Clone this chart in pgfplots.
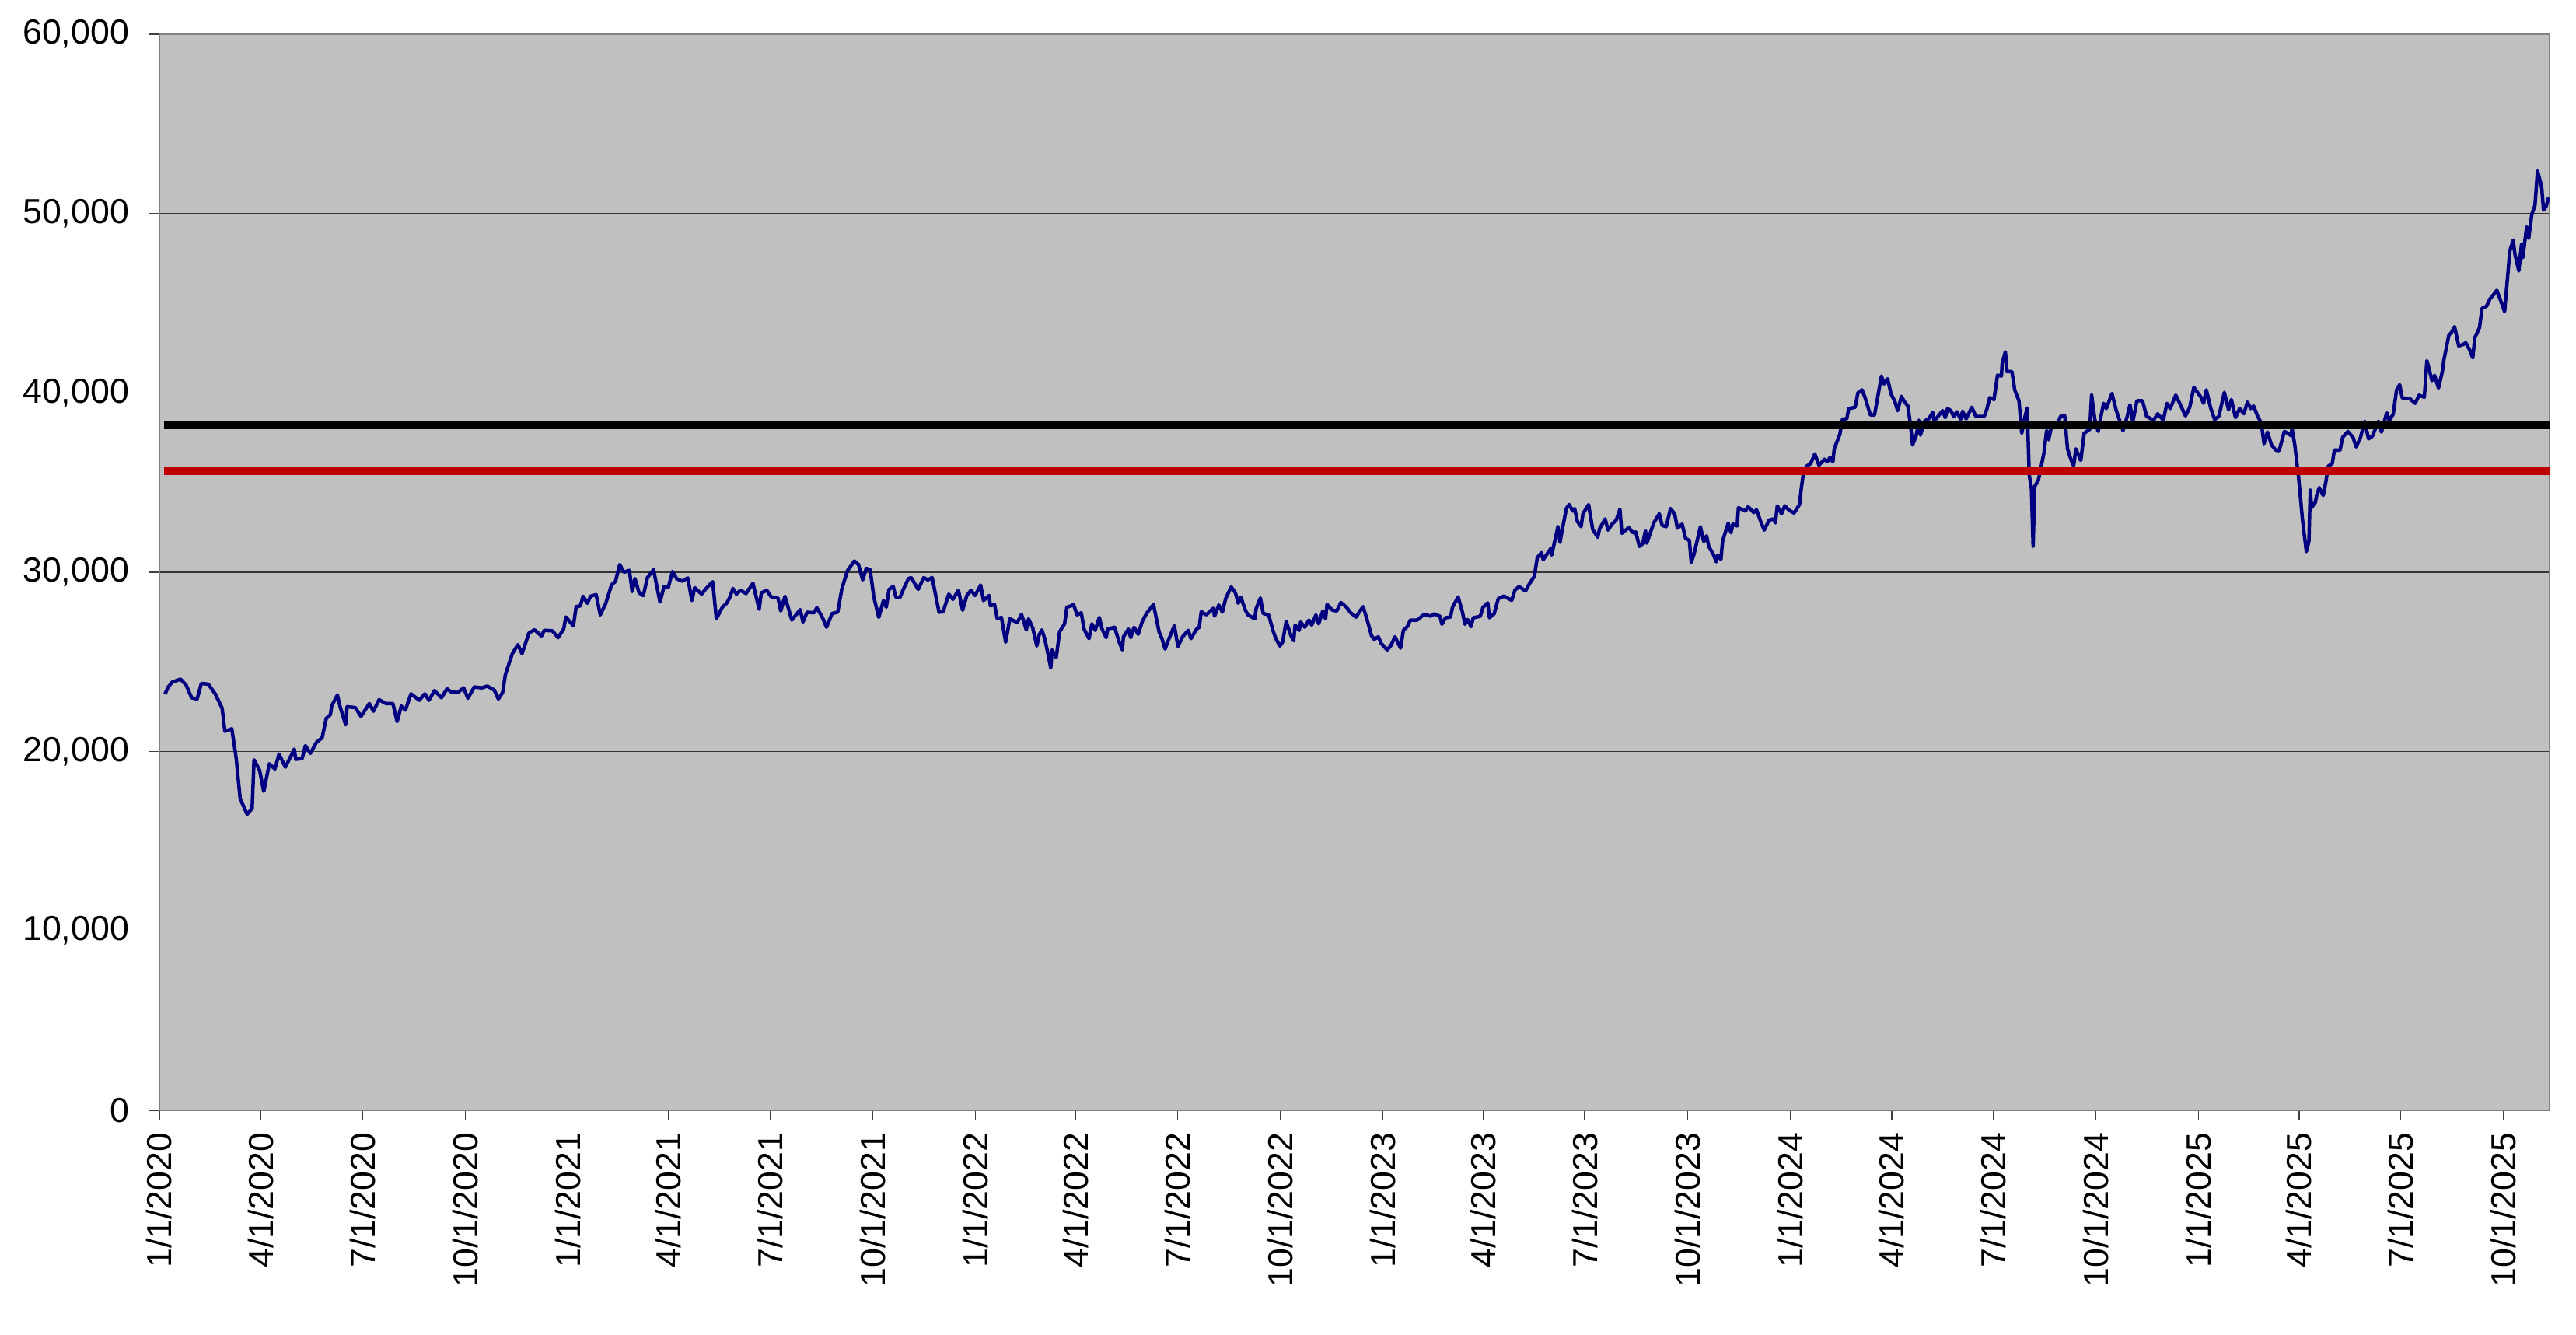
\documentclass[border=0pt]{standalone}
\usepackage{pgfplots}
\pgfplotsset{compat=1.18}
\usepackage{fontspec}
\setmainfont{Liberation Sans}
\definecolor{plotbg}{HTML}{C0C0C0}
\definecolor{navyline}{HTML}{000080}
\definecolor{refred}{HTML}{C00000}
\begin{document}
\fontsize{10}{12}\selectfont
\begin{tikzpicture}
\useasboundingbox (0,0) rectangle (741.2pt,384.1pt);
\begin{axis}[
  at={(45.86pt,64.65pt)}, anchor=south west,
  width=687.7pt, height=309.6pt, scale only axis,
  xmin=0, xmax=2141.3, ymin=0, ymax=60000,
  axis background/.style={fill=plotbg},
  axis line style={draw=gray, line width=0.6pt},
  ytick={0,10000,20000,30000,40000,50000,60000},
  xtick={0,91,182,274,366,456,547,639,731,821,912,1004,1096,1186,1277,1369,1461,1552,1643,1735,1827,1917,2008,2100},
  xticklabels={1/1/2020,4/1/2020,7/1/2020,10/1/2020,1/1/2021,4/1/2021,7/1/2021,10/1/2021,1/1/2022,4/1/2022,7/1/2022,10/1/2022,1/1/2023,4/1/2023,7/1/2023,10/1/2023,1/1/2024,4/1/2024,7/1/2024,10/1/2024,1/1/2025,4/1/2025,7/1/2025,10/1/2025},
  xticklabel style={rotate=90, anchor=east},
  yticklabel style={anchor=east, xshift=-2.3pt},
  tick align=outside, xtick pos=bottom, ytick pos=left,
  major tick length=2.9pt,
  tick style={black!75, line width=0.3pt},
  ymajorgrids, grid style={black!80, line width=0.3pt},
  scaled y ticks=false,
  /pgf/number format/1000 sep={,},
  /pgf/number format/assume math mode=true,
]
\addplot[navyline, line width=1.0pt, line join=round, mark=none] coordinates {
(5,23200) (7.7,23580) (11.4,23870) (18.9,24040) (23.9,23720) (28.9,23000) (33.8,22930) (37.6,23800) (43.8,23760) (50,23220) (56.2,22420) (58.7,21130) (64.9,21270) (68.7,19680) (72.4,17370) (78.6,16510) (83.1,16830) (84.8,19540) (89.8,18960) (93.5,17780) (98.5,19320) (103.5,19030) (107.2,19860) (112.9,19130) (120.9,20140) (122.1,19570) (127.9,19610) (130.8,20330) (135.3,19900) (140.8,20520) (145.8,20770) (149.5,21850) (153.2,22060) (154.5,22570) (159.5,23150) (161.9,22500) (166.9,21490) (168.2,22500) (175.6,22450) (180.6,21960) (188.1,22680) (191.8,22250) (196.8,22890) (203,22680) (209.2,22680) (213,21670) (216.7,22540) (220.4,22310) (225.4,23220) (232.8,22860) (237.8,23220) (241.5,22860) (246.5,23400) (252.7,23000) (257.7,23500) (261.5,23320) (267.2,23290) (272.6,23550) (276.4,22970) (282.1,23600) (288.8,23550) (293.8,23650) (300,23430) (303.7,22930) (307.5,23290) (310,24300) (316.2,25460) (321.2,25960) (324.9,25460) (331.1,26610) (336.1,26790) (342.3,26440) (344.8,26760) (352.2,26730) (357.2,26350) (362.2,26830) (364.2,27500) (370.9,27010) (373.4,28080) (377.1,28120) (379.6,28660) (383.4,28270)
(386.3,28660) (391.3,28750) (395,27620) (400,28270) (405,29280) (408.7,29500) (412.4,30430) (416.1,30000) (421.1,30100) (423.6,28920) (426.1,29640) (429.8,28850) (433.5,28700) (437.3,29700) (442.7,30140) (448.5,28340) (452.2,29210) (455.9,29140) (459.7,30040) (463.4,29640) (468.4,29500) (473.4,29680) (477.1,28420) (479.6,29140) (485.8,28780) (489.5,29070) (495.7,29470) (499,27400) (504.4,28050) (508.2,28270) (510.7,28550) (513.9,29090) (516.9,28780) (520.6,28990) (525.6,28810) (531.8,29380) (537.3,27940) (539.3,28850) (544.2,28990) (548,28630) (554.2,28560) (556.7,27840) (560.4,28660) (566.6,27330) (574.1,27910) (576.6,27220) (580.3,27770) (586.5,27740) (589,28020) (594,27480) (597.7,26930) (602.7,27700) (607.7,27770) (611.4,29070) (616.4,30080) (622.6,30620) (626.3,30430) (630.1,29570) (633.3,30210) (636.8,30140) (640,28630) (644.5,27480) (648.7,28420) (651.2,28050) (653.7,29040) (657.4,29210) (659.9,28600) (663.6,28600) (666.1,28990) (671.1,29640) (673.6,29700) (679.8,29040) (684.8,29700) (688.5,29570) (692.3,29700) (698.5,27770) (702.2,27800) (707.2,28780) (710.9,28490) (715.9,28990) (719.6,27880) (723.4,28700) (727.1,28990) (730.8,28700) (735.8,29280) (738.3,28420) (743.3,28700) (744.5,28130) (748.2,28200) (750.7,27400) (754.4,27480) (758.2,26100) (761.9,27400)
(768.7,27190) (772.4,27650) (776.7,26780) (778.7,27400) (782.4,26900) (786.1,25890) (788.1,26490) (790.6,26780) (793.1,26320) (796.1,25450) (798.6,24660) (799.8,25670) (803.5,25240) (806.5,26680) (811,27120) (813,28050) (817.2,28130) (819,28200) (822.2,27620) (825.9,27740) (828.4,26830) (832.9,26300) (835.4,27120) (838.4,26760) (842.1,27480) (844.6,26830) (848.3,26350) (849.5,26830) (855.8,26930) (859.5,26180) (862.7,25670) (863.7,26400) (868.2,26830) (870.2,26350) (873.2,26930) (876.9,26540) (880.6,27260) (884.4,27700) (890.6,28200) (895.6,26680) (898.1,26320) (901,25720) (904.3,26260) (909.3,27020) (912.5,25860) (916.7,26400) (921.7,26760) (924.2,26300) (929.2,26830) (931.6,26930) (933.4,27800) (937.9,27620) (944.1,27990) (945.3,27550) (949.1,28170) (952.3,27770) (955.3,28530) (960.2,29180) (964,28850) (966.5,28270) (969,28600) (972.7,27910) (975.2,27620) (981.4,27400) (982.6,27980) (986.4,28560) (988.9,27700) (993.8,27620) (997.6,26760) (1000.1,26320) (1003.8,25890) (1006.3,26100) (1009.5,27260) (1013.7,26470) (1016.2,26180) (1017.5,27050) (1021.2,26760) (1022.4,27220) (1026.2,26930) (1029.9,27330) (1032.4,27050) (1036.1,27620) (1038.6,27120) (1042.3,27840) (1044.8,27400) (1046.1,28200) (1051,27880) (1054.8,27840) (1058.5,28310) (1063.5,28050) (1067.2,27740) (1072.2,27500) (1075.2,27800) (1078.4,28080) (1082.1,27330) (1085.9,26470) (1088.4,26260) (1092.1,26400) (1094.6,26030) (1100,25670) (1103.3,25910) (1107,26400) (1112,25770) (1114.5,26760) (1118.2,26980) (1120.7,27330) (1126.9,27330) (1133.1,27650) (1138.9,27550)
(1142.3,27680) (1147.3,27540) (1149,27100) (1152.3,27460) (1156.7,27500) (1158.5,28040) (1163.5,28620) (1167.2,27830) (1169.7,27100) (1172.2,27360) (1175.1,26960) (1177.1,27460) (1183.4,27540) (1185.8,28040) (1190.1,28290) (1191.6,27460) (1195.8,27680) (1199.5,28520) (1204.5,28670) (1211.5,28430) (1214.5,29010) (1218.2,29200) (1223.9,28950) (1226.9,29300) (1231.9,29780) (1234.4,30800) (1238.1,31090) (1239.8,30700) (1246.8,31340) (1247.3,30950) (1253,32540) (1254.8,31670) (1256.7,32320) (1260.5,33550) (1263,33770) (1266.2,33410) (1267.9,33550) (1270.4,32830) (1273.7,32540) (1275.4,33260) (1280.4,33770) (1284.1,32390) (1288.6,31950) (1290.3,32430) (1295.3,32970) (1297.8,32350) (1301.5,32680) (1305.3,32920) (1308.5,33510) (1310.2,32170) (1316.4,32490) (1320.2,32200) (1322.7,32240) (1325.9,31440) (1328.9,31590) (1331.4,32320) (1332.6,31620) (1338.8,32750) (1343.8,33260) (1346.3,32610) (1350,32540) (1353.8,33550) (1357.5,33260) (1360,32460) (1364.2,32680) (1367.4,31880) (1370.7,31770) (1372.4,30550) (1374.9,31010) (1380.6,32540) (1383.6,31710) (1386.1,32030) (1388.1,31440) (1392.3,30980) (1394.8,30580) (1396,30940) (1399,30720) (1400.5,31740) (1405.5,32730) (1408,32200) (1409.7,32680) (1413.5,32580) (1414.7,33600) (1420.9,33410) (1423.4,33650) (1428.4,33330) (1430.9,33480) (1434.6,32830) (1437.8,32350) (1442.1,32900) (1445.8,32970) (1447.8,32750) (1449.5,33700) (1453.3,33260) (1456.2,33700) (1460.2,33450) (1464.5,33300) (1469.4,33770) (1471.2,34780) (1473.2,35650) (1475.7,35910) (1479.4,36060) (1483.1,36600) (1486.8,35970) (1491.8,36300) (1494.3,36160) (1496.8,36410) (1499.3,36160) (1500.5,36890) (1505.5,37680)
(1508,38550) (1511.7,38550) (1513.5,39130) (1519.2,39200) (1521.7,40000) (1525.4,40170) (1527.9,39780) (1532.9,38770) (1536.6,38770) (1542.8,40940) (1545.3,40500) (1548.3,40790) (1551.5,39920) (1554.8,39530) (1557.3,39010) (1560.7,39810) (1563.2,39530) (1566.5,39270) (1568.9,38180) (1570.7,37100) (1573.9,37610) (1576.4,38480) (1577.7,37650) (1581.4,38430) (1585.1,38550) (1588.8,38910) (1590.1,38430) (1597.6,39010) (1600,38620) (1602,39130) (1605,39010) (1607.5,38690) (1610.5,38950) (1613.7,38520) (1615.5,38980) (1618.7,38550) (1623.7,39200) (1627.4,38690) (1634.9,38690) (1637.4,39130) (1639.8,39740) (1643.6,39630) (1646.8,40990) (1650.3,40940) (1651,41660) (1653.8,42290) (1655.3,41190) (1659.7,41190) (1662.2,40170) (1666,39560) (1668.5,37750) (1670.9,38550) (1673.4,39160) (1675.2,35430) (1677.2,34640) (1678.7,31450) (1680.1,34780) (1683.4,35140) (1688.4,36660) (1690.8,37900) (1692.6,37390) (1695.8,38330) (1699.5,38120) (1703.3,38690) (1707,38720) (1709.5,36880) (1712.5,36300) (1715,35940) (1717,36880) (1721.4,36230) (1724.4,37750) (1729.4,37970) (1731.1,39880) (1733.9,38550) (1736.9,37860) (1741.8,39420) (1744.3,39130) (1749.3,39970) (1753,39060) (1759.2,37900) (1763,38690) (1765.5,39340) (1768,38400) (1771.7,39560) (1776.7,39560) (1780.4,38690) (1786.6,38480) (1790.3,38840) (1795.3,38480) (1798.6,39420) (1801.5,39130) (1806.5,39880) (1809.5,39490) (1815.2,38720) (1819,39200) (1822.7,40310) (1828.9,39780) (1831.4,39420) (1833.9,40170) (1837.6,39200) (1841.3,38520) (1845.1,38690) (1850,40030) (1853.8,39060) (1856.3,39630) (1860,38620) (1863.7,39130) (1867.5,38840) (1870.7,39490) (1873.7,39130) (1876.2,39270) (1879.9,38690) (1883.1,38330) (1885.6,37170) (1888.6,37820) (1892.3,37100) (1896.1,36810)
(1899.1,36780) (1903.8,37850) (1906.1,37780) (1909.6,37630) (1910.7,38000) (1913.1,37110) (1916.5,35320) (1920,32935) (1923.5,31150) (1925.8,31740) (1927,34575) (1928.2,33600) (1931.6,33900) (1932.8,34300) (1935.1,34720) (1938.6,34280) (1940.9,35020) (1943.2,35920) (1946.7,36065) (1948.6,36810) (1953.7,36810) (1956,37525) (1960.7,37850) (1965.3,37525) (1968.1,36990) (1971.8,37480) (1975.8,38420) (1979.2,37440) (1982.7,37590) (1988.1,38420) (1990.8,37820) (1995.5,38900) (1997.8,38450) (2001.3,38820) (2004.3,40160) (2007.1,40460) (2009.4,39720) (2016.4,39670) (2021,39420) (2024.5,39870) (2029.2,39760) (2031.5,41800) (2036.1,40685) (2038.4,40980) (2041.9,40270) (2045.4,41210) (2046.6,41800) (2051.2,43220) (2053.5,43370) (2056.3,43700) (2060,42620) (2064,42700) (2066.3,42800) (2069.8,42400) (2072.6,41950) (2074.4,43070) (2078.6,43640) (2080.9,44710) (2084.9,44830) (2087.9,45230) (2091.2,45480) (2094.2,45720) (2097.7,45130) (2101.1,44530) (2105.8,47910) (2108.8,48510) (2110.4,47720) (2113.9,46800) (2116.2,48260) (2117.4,47540) (2120.9,49260) (2122.7,48610) (2125.5,49960) (2128.3,50450) (2130.6,52380) (2134.3,51490) (2136,50190) (2138.3,50400) (2140.6,50890)
};
\addplot[black, line width=2.5pt, mark=none] coordinates {(4,38200) (2141.3,38200)};
\addplot[refred, line width=2.5pt, mark=none] coordinates {(4,35650) (2141.3,35650)};
\end{axis}
\end{tikzpicture}
\end{document}
